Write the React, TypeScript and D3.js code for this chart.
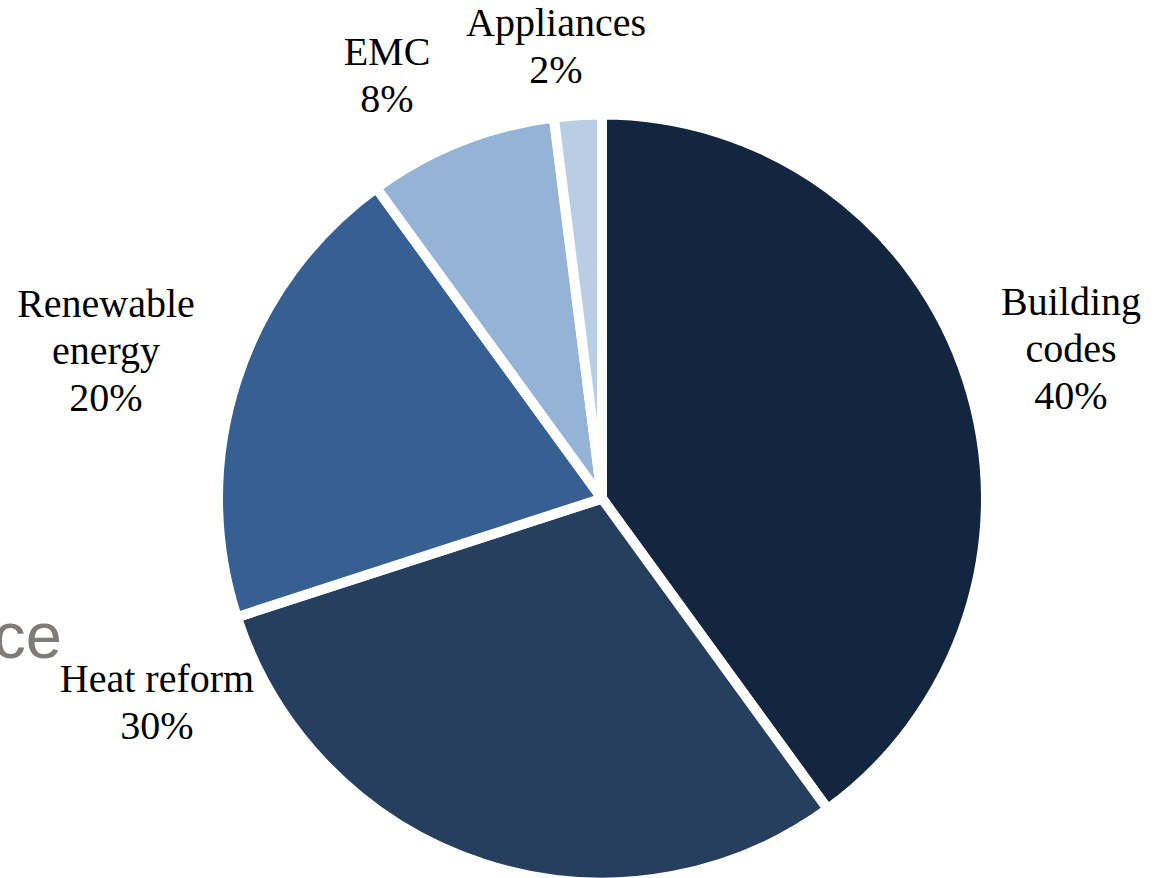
import React from "react";
import * as d3 from "d3";

const categories = ["Building codes", "Heat reform", "Renewable energy", "EMC", "Appliances"];
const values = [40, 30, 20, 8, 2];
const colors = ["#12263F", "#263F5F", "#366092", "#95B3D7", "#B9CDE5"];
const labelLines = [
  ["Building", "codes", "40%"],
  ["Heat reform", "30%"],
  ["Renewable", "energy", "20%"],
  ["EMC", "8%"],
  ["Appliances", "2%"],
];
// label anchor (center x, first baseline y)
const labelPos: [number, number][] = [
  [1071, 315],
  [157, 692],
  [106, 317],
  [387, 65],
  [556, 36],
];

const W = 1157;
const H = 878;
const cx = 602;
const cy = 498.5;
const R = 384;

export default function App() {
  const pie = d3
    .pie<number>()
    .sort(null)
    .value((d) => d)
    .startAngle(0)
    .endAngle(2 * Math.PI);
  const arcs = pie(values);
  const arc = d3.arc<d3.PieArcDatum<number>>().innerRadius(0).outerRadius(R);

  return (
    <div style={{ position: "absolute", left: 0, top: 0 }}>
      <svg width={W} height={H} style={{ display: "block" }}>
        <rect width={W} height={H} fill="#ffffff" />
        <text
          x={62}
          y={658}
          textAnchor="end"
          fontFamily="'Liberation Sans', Arial, sans-serif"
          fontSize={65}
          fill="#7f7b78"
        >
          ce
        </text>
        <g transform={`translate(${cx},${cy})`}>
          {arcs.map((a, i) => (
            <path
              key={categories[i]}
              d={arc(a) || ""}
              fill={colors[i]}
              stroke="#ffffff"
              strokeWidth={10}
              strokeLinejoin="miter"
            />
          ))}
        </g>
        {labelLines.map((lines, i) => (
          <text
            key={categories[i]}
            x={labelPos[i][0]}
            y={labelPos[i][1]}
            textAnchor="middle"
            fontFamily="'Liberation Serif', 'Times New Roman', serif"
            fontSize={40}
            fill="#000000"
          >
            {lines.map((l, j) => (
              <tspan key={j} x={labelPos[i][0]} dy={j === 0 ? 0 : 47}>
                {l}
              </tspan>
            ))}
          </text>
        ))}
      </svg>
    </div>
  );
}
